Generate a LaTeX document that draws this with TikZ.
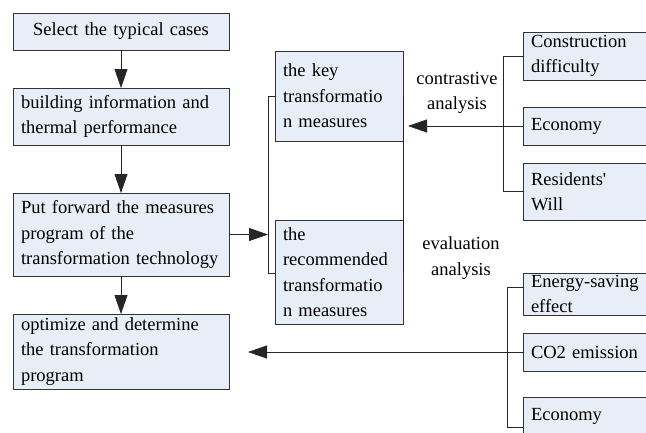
\documentclass[tikz,border=0pt]{standalone}
\usepackage{fontspec}
\setmainfont{Liberation Serif}
\usetikzlibrary{arrows.meta}
\definecolor{boxfill}{RGB}{232,238,248}
\begin{document}
\begin{tikzpicture}[x=1pt,y=-1pt,
  box/.style={draw=black!80, fill=boxfill, line width=0.8pt, inner xsep=8pt, inner ysep=0pt, outer sep=0pt, align=left, font=\fontsize{18.5}{25.5}\selectfont},
  conn/.style={draw=black!85, line width=0.8pt},
  arr/.style={conn, -{Triangle[length=19pt,width=13pt]}},
  lbl/.style={align=center, font=\fontsize{18.5}{25.5}\selectfont, inner sep=0pt}]
\clip (0,0) rectangle (646,432);
% left column
\node[box, text width=200pt, minimum height=37pt, align=center] (b1) at (121,31.5) {Select the typical cases};
\node[box, text width=200pt, minimum height=57pt] (b2) at (121,116.5) {building information and\\thermal performance};
\node[box, text width=200pt, minimum height=83pt] (b3) at (121,234.5) {Put forward the measures\\program of the\\transformation technology};
\node[box, text width=200pt, minimum height=75pt] (b4) at (121,351.5) {optimize and determine\\the transformation\\program};
% middle column
\node[box, text width=112pt, minimum height=90pt] (key) at (339,96) {the key\\transformatio\\n measures};
\node[box, text width=112pt, minimum height=104pt] (rec) at (339,272) {the\\recommended\\transformatio\\n measures};
% right column
\node[box, text width=121pt, minimum height=48pt] (c1) at (591.5,56) {Construction\\difficulty};
\node[box, text width=121pt, minimum height=38pt] (c2) at (591.5,126) {Economy};
\node[box, text width=121pt, minimum height=57pt] (c3) at (591.5,191.5) {Residents\textquotesingle\\Will};
\node[box, text width=121pt, minimum height=42pt] (e1) at (591.5,294) {Energy-saving\\effect};
\node[box, text width=121pt, minimum height=38pt] (e2) at (591.5,352) {CO2 emission};
\node[box, text width=121pt, minimum height=39pt] (e3) at (591.5,416.5) {Economy};
% labels
\node[lbl] (ca) at (457,93) {contrastive\\analysis};
\node[lbl] (ea) at (461,258) {evaluation\\analysis};
% coordinates
\coordinate (lbT) at (268,96);
\coordinate (lbB) at (268,273);
\coordinate (cbT) at (503,56);
\coordinate (cbB) at (503,191.5);
\coordinate (keyin) at (408,126);
\coordinate (ebT) at (507,287);
\coordinate (ebB) at (507,427);
\coordinate (b4in) at (248,352);
% connectors
\draw[arr] (b1) -- (b2);
\draw[arr] (b2) -- (b3);
\draw[arr] (b3) -- (b4);
\draw[arr] (b3.east) -- (b3.east -| lbT);
\draw[conn] (key.west |- lbT) -- (lbT) -- (lbB) -- (rec.west |- lbB);
\draw[conn] (key.east |- lbT) -- (rec.east |- lbB);
\draw[conn] (c1.west) -- (cbT) -- (cbB) -- (c3.west);
\draw[arr] (c2.west) -- (keyin);
\draw[conn] (e1.west |- ebT) -- (ebT) -- (ebB) -- (e3.west |- ebB);
\draw[arr] (e2.west) -- (b4in);
\end{tikzpicture}
\end{document}
